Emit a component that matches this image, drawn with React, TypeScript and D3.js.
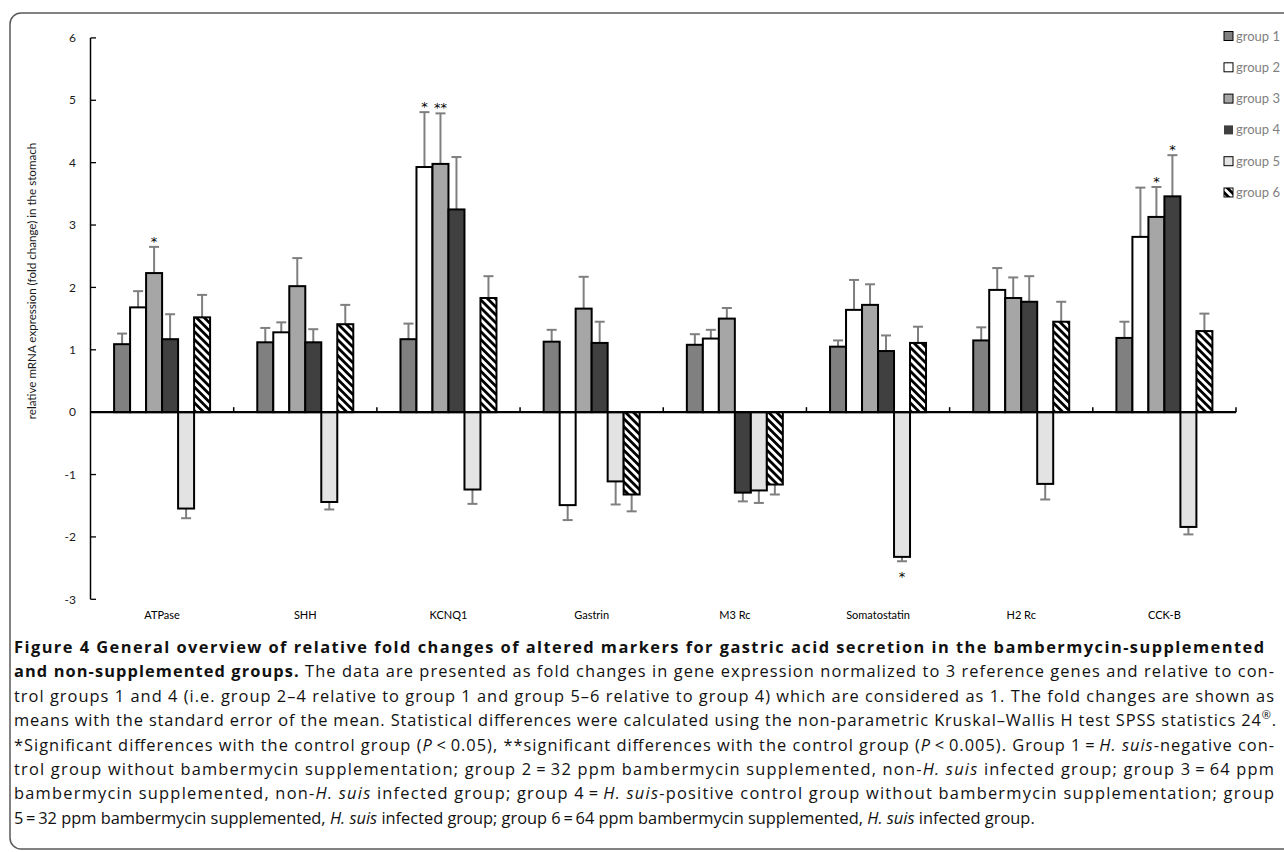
import React from 'react';
import * as d3 from 'd3';

const categories = ['ATPase', 'SHH', 'KCNQ1', 'Gastrin', 'M3 Rc', 'Somatostatin', 'H2 Rc', 'CCK-B'];
const groupNames = ['group 1', 'group 2', 'group 3', 'group 4', 'group 5', 'group 6'];

const group1 = [1.09, 1.12, 1.17, 1.13, 1.08, 1.05, 1.15, 1.19];
const group1Err = [0.17, 0.23, 0.25, 0.19, 0.17, 0.10, 0.21, 0.26];
const group2 = [1.68, 1.28, 3.93, -1.49, 1.18, 1.64, 1.96, 2.81];
const group2Err = [0.26, 0.16, 0.88, 0.24, 0.14, 0.48, 0.35, 0.79];
const group3 = [2.23, 2.02, 3.98, 1.66, 1.50, 1.72, 1.83, 3.13];
const group3Err = [0.42, 0.45, 0.81, 0.51, 0.17, 0.33, 0.33, 0.48];
const group4 = [1.17, 1.12, 3.25, 1.11, -1.29, 0.98, 1.77, 3.46];
const group4Err = [0.40, 0.21, 0.84, 0.34, 0.14, 0.25, 0.41, 0.66];
const group5 = [-1.545, -1.44, -1.24, -1.11, -1.255, -2.32, -1.15, -1.84];
const group5Err = [0.155, 0.12, 0.23, 0.37, 0.20, 0.07, 0.25, 0.12];
const group6 = [1.52, 1.41, 1.83, -1.32, -1.16, 1.11, 1.45, 1.30];
const group6Err = [0.36, 0.31, 0.35, 0.27, 0.16, 0.26, 0.32, 0.28];

const group1Sig = ['', '', '', '', '', '', '', ''];
const group2Sig = ['', '', '*', '', '', '', '', ''];
const group3Sig = ['*', '', '**', '', '', '', '', '*'];
const group4Sig = ['', '', '', '', '', '', '', '*'];
const group5Sig = ['', '', '', '', '', '*', '', ''];
const group6Sig = ['', '', '', '', '', '', '', ''];

const yTicks = [-3, -2, -1, 0, 1, 2, 3, 4, 5, 6];
const yLabel = 'relative mRNA expression (fold change) in the stomach';

const values = [group1, group2, group3, group4, group5, group6];
const errors = [group1Err, group2Err, group3Err, group4Err, group5Err, group6Err];
const sigs = [group1Sig, group2Sig, group3Sig, group4Sig, group5Sig, group6Sig];
const fills = ['#808080', '#ffffff', '#a6a6a6', '#404040', '#e3e3e3', 'url(#hatch)'];

const W = 1284;
const H = 852;
const chartFont = 'Lato, "Open Sans", sans-serif';
const capFont = '"Open Sans", "Noto Sans", sans-serif';

type Seg = { t: string; b?: boolean; i?: boolean; sup?: boolean };
const captionLines: { segs: Seg[]; justify: boolean; end: number }[] = [
  { segs: [{ t: 'Figure 4  General overview of relative fold changes of altered markers for gastric acid secretion in the bambermycin-supplemented', b: true }], justify: true, end: 1264 },
  { segs: [{ t: 'and non-supplemented groups.', b: true }, { t: ' The data are presented as fold changes in gene expression normalized to 3 reference genes and relative to con-' }], justify: true, end: 1274 },
  { segs: [{ t: 'trol groups 1 and 4 (i.e. group 2\u20134 relative to group 1 and group 5\u20136 relative to group 4) which are considered as 1. The fold changes are shown as' }], justify: true, end: 1274 },
  { segs: [{ t: 'means with the standard error of the mean. Statistical differences were calculated using the non-parametric Kruskal\u2013Wallis H test SPSS statistics 24' }, { t: '\u00AE', sup: true }, { t: '.' }], justify: true, end: 1276 },
  { segs: [{ t: '*Significant differences with the control group (' }, { t: 'P', i: true }, { t: '\u2009<\u20090.05), **significant differences with the control group (' }, { t: 'P', i: true }, { t: '\u2009<\u20090.005). Group 1\u2009=\u2009' }, { t: 'H. suis', i: true }, { t: '-negative con-' }], justify: true, end: 1274 },
  { segs: [{ t: 'trol group without bambermycin supplementation; group 2\u2009=\u200932 ppm bambermycin supplemented, non-' }, { t: 'H. suis', i: true }, { t: ' infected group; group 3\u2009=\u200964 ppm' }], justify: true, end: 1274 },
  { segs: [{ t: 'bambermycin supplemented, non-' }, { t: 'H. suis', i: true }, { t: ' infected group; group 4\u2009=\u2009' }, { t: 'H. suis', i: true }, { t: '-positive control group without bambermycin supplementation; group' }], justify: true, end: 1274 },
  { segs: [{ t: '5\u2009=\u200932 ppm bambermycin supplemented, ' }, { t: 'H. suis', i: true }, { t: ' infected group; group 6\u2009=\u200964 ppm bambermycin supplemented, ' }, { t: 'H. suis', i: true }, { t: ' infected group.' }], justify: false, end: 0 },
];

export default function App() {
  const x0 = d3.scaleBand<string>().domain(categories).range([90.5, 1236]).paddingInner(0).paddingOuter(0);
  const bw = x0.bandwidth();
  const x1 = d3.scaleBand<string>().domain(groupNames).range([23.6, bw - 23.6]).padding(0);
  const y = d3.scaleLinear().domain([-3, 6]).range([599.3, 37.9]);
  const y0 = y(0);
  const barW = x1.bandwidth();

  const capStart = 14;
  const capBase0 = 653;
  const capStep = 24.4;

  return (
    <svg width={W} height={H} viewBox={`0 0 ${W} ${H}`} style={{ position: 'absolute', left: 0, top: 0, background: '#fff' }}>
      <defs>
        <pattern id="hatch" patternUnits="userSpaceOnUse" width="5.6" height="5.6" patternTransform="rotate(-45)">
          <rect width="5.6" height="5.6" fill="#ffffff" />
          <rect width="2.8" height="5.6" fill="#000000" />
        </pattern>
      </defs>
      <rect x={10} y={13} width={1320} height={836} rx={11} ry={11} fill="none" stroke="#5a5a5a" strokeWidth={1.5} />

      {/* y axis */}
      <line x1={90.5} x2={90.5} y1={y(6)} y2={y(-3)} stroke="#000" strokeWidth={1.5} />
      {yTicks.map((t) => (
        <g key={t}>
          <line x1={90.5} x2={96} y1={y(t)} y2={y(t)} stroke="#000" strokeWidth={1.3} />
          <text x={76} y={y(t)} dy="0.35em" textAnchor="end" fontFamily={chartFont} fontSize={12} fill="#1a1a1a">{t}</text>
        </g>
      ))}
      <text transform={`translate(36,${281}) rotate(-90)`} textAnchor="middle" fontFamily={chartFont} fontSize={11.6} fill="#1a1a1a">{yLabel}</text>

      {/* bars */}
      {categories.map((c, ci) => (
        <g key={c} transform={`translate(${x0(c)},0)`}>
          {groupNames.map((g, gi) => {
            const v = values[gi][ci];
            const e = errors[gi][ci];
            const bx = x1(g) as number;
            const yv = y(v);
            const top = Math.min(yv, y0);
            const h = Math.abs(yv - y0);
            const ye = y(v + (v >= 0 ? e : -e));
            const cx = bx + barW / 2;
            const s = sigs[gi][ci];
            return (
              <g key={g}>
                <line x1={cx} x2={cx} y1={yv} y2={ye} stroke="#7f7f7f" strokeWidth={2} />
                <line x1={cx - 5} x2={cx + 5} y1={ye} y2={ye} stroke="#7f7f7f" strokeWidth={2} />
                <rect x={bx} y={top} width={barW} height={h} fill={fills[gi]} stroke="#000" strokeWidth={2} />
                {s && (
                  <text x={cx} y={v >= 0 ? ye - 1 : ye + 20} textAnchor="middle" fontFamily={'"DejaVu Sans", sans-serif'} fontSize={13} fill="#000">{s}</text>
                )}
              </g>
            );
          })}
        </g>
      ))}

      {/* x axis */}
      <line x1={90.5} x2={1236} y1={y0} y2={y0} stroke="#000" strokeWidth={2.2} />
      {categories.map((c) => (
        <line key={'t' + c} x1={(x0(c) as number) + bw} x2={(x0(c) as number) + bw} y1={y0} y2={y0 - 5} stroke="#000" strokeWidth={1.5} />
      ))}
      {categories.map((c) => (
        <text key={'l' + c} x={(x0(c) as number) + bw / 2} y={619} textAnchor="middle" fontFamily={chartFont} fontSize={11} fill="#000">{c}</text>
      ))}

      {/* legend */}
      {groupNames.map((g, gi) => {
        const ly = 36 + gi * 31.3;
        return (
          <g key={'lg' + g}>
            <rect x={1224} y={ly - 4.5} width={9} height={9} fill={fills[gi]} stroke={gi === 3 ? 'none' : '#000'} strokeWidth={1} />
            <text x={1236} y={ly} dy="0.35em" fontFamily={chartFont} fontSize={13} fill="#7f7f7f">{g}</text>
          </g>
        );
      })}

      {/* caption */}
      {captionLines.map((ln, li) => (
        <text
          key={'cap' + li}
          x={capStart}
          y={capBase0 + li * capStep}
          fontFamily={capFont}
          fontSize={16.4}
          fill="#111"
          {...(ln.justify ? { textLength: ln.end - capStart, lengthAdjust: 'spacing' } : {})}
        >
          {ln.segs.map((s, si) => (
            <tspan
              key={si}
              fontWeight={s.b ? 700 : 400}
              fontStyle={s.i ? 'italic' : 'normal'}
              fontSize={s.sup ? 11 : undefined}
              dy={s.sup ? -7 : si > 0 && ln.segs[si - 1].sup ? 7 : undefined}
            >
              {s.t}
            </tspan>
          ))}
        </text>
      ))}
    </svg>
  );
}
